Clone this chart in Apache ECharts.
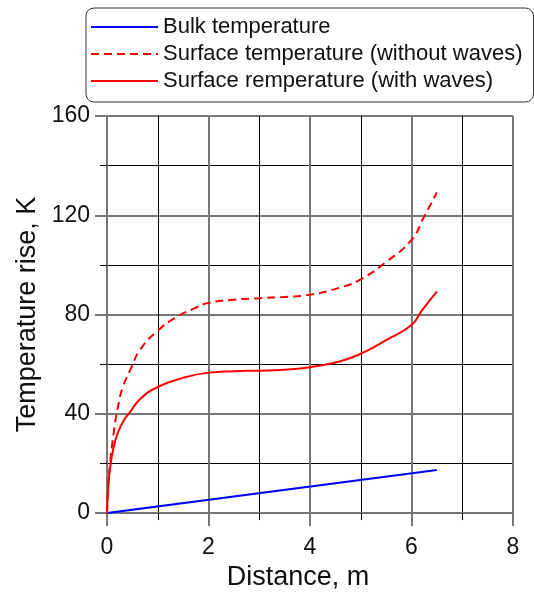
<!DOCTYPE html>
<html>
<head>
<meta charset="utf-8">
<script src="https://cdn.jsdelivr.net/npm/echarts@6/dist/echarts.min.js"></script>
<style>
html,body{margin:0;padding:0;background:#fff;}
#chart{width:534px;height:596px;}
</style>
</head>
<body>
<div id="chart"></div>
<script>
// Data
var seriesNames = ['Bulk temperature', 'Surface temperature (without waves)', 'Surface remperature (with waves)'];

var bulkX = [0, 6.5];
var bulkY = [0, 17.4];

var noWaveX = [0, 0.03, 0.06, 0.125, 0.22, 0.32, 0.49, 0.65, 1.0, 1.37, 1.7, 2.0, 2.5, 3.0, 3.5, 4.0, 4.6, 5.0, 5.5, 6.0, 6.25, 6.5];
var noWaveY = [0, 13, 20, 31.3, 43.3, 51.2, 59.1, 65.8, 73.5, 79, 82.3, 84.7, 86.0, 86.6, 87.1, 88, 90.9, 94.2, 101.2, 110.1, 119.5, 129.2];

var waveX = [0, 0.02, 0.06, 0.125, 0.22, 0.35, 0.45, 0.65, 1.0, 1.5, 2.0, 2.5, 3.0, 3.5, 4.0, 4.6, 5.0, 5.5, 6.0, 6.2, 6.5];
var waveY = [0, 9, 18, 26, 32.7, 38, 40.6, 45.9, 50.8, 54.5, 56.6, 57.2, 57.4, 57.8, 58.8, 61.2, 64.2, 69.7, 75.8, 81.5, 89.2];

function zip(xs, ys) { return xs.map(function (x, i) { return [x, ys[i]]; }); }

var FONT = '"Liberation Sans", Arial, sans-serif';
var GRAY = '#777777';

var chart = echarts.init(document.getElementById('chart'), null, {renderer: 'canvas'});
chart.setOption({
  animation: false,
  backgroundColor: '#ffffff',
  textStyle: {fontFamily: FONT},
  grid: {left: 107, right: 21, top: 116, bottom: 77, containLabel: false},
  legend: {
    orient: 'vertical',
    left: 86, top: 8,
    padding: [8, 11, 10, 4],
    itemGap: 5,
    itemWidth: 67, itemHeight: 14,
    borderColor: '#333333', borderWidth: 1, borderRadius: 8,
    backgroundColor: '#ffffff',
    itemStyle: {opacity: 0},
    textStyle: {fontSize: 22, lineHeight: 22, color: '#111111', fontFamily: FONT},
    data: seriesNames
  },
  xAxis: {
    type: 'value', min: 0, max: 8, interval: 2, position: 'bottom',
    name: 'Distance, m', nameLocation: 'middle', nameGap: 48,
    nameTextStyle: {fontSize: 27, color: '#111111', fontFamily: FONT, padding: [0, 24, 0, 0]},
    axisLine: {show: true, onZero: false, lineStyle: {color: GRAY, width: 2}},
    axisTick: {show: true, length: 13, lineStyle: {color: GRAY, width: 2}},
    minorTick: {show: true, splitNumber: 2, length: 7, lineStyle: {color: '#000000', width: 1}},
    axisLabel: {fontSize: 23, color: '#111111', margin: 23, fontFamily: FONT},
    splitLine: {show: true, lineStyle: {color: GRAY, width: 2}},
    minorSplitLine: {show: true, lineStyle: {color: '#000000', width: 1}}
  },
  yAxis: {
    type: 'value', min: 0, max: 160, interval: 40, position: 'left',
    name: 'Temperature rise, K', nameLocation: 'middle', nameGap: 64, nameRotate: 90,
    nameTextStyle: {fontSize: 27, color: '#111111', fontFamily: FONT},
    axisLine: {show: true, onZero: false, lineStyle: {color: GRAY, width: 2}},
    axisTick: {show: true, length: 12, lineStyle: {color: GRAY, width: 2}},
    minorTick: {show: true, splitNumber: 2, length: 7, lineStyle: {color: '#000000', width: 1}},
    axisLabel: {fontSize: 23, color: '#111111', margin: 17, fontFamily: FONT},
    splitLine: {show: true, lineStyle: {color: GRAY, width: 2}},
    minorSplitLine: {show: true, lineStyle: {color: '#000000', width: 1}}
  },
  series: [
    {
      name: seriesNames[0], type: 'line', z: 5,
      data: zip(bulkX, bulkY), symbol: 'none', smooth: false,
      lineStyle: {color: '#0000ff', width: 2}, itemStyle: {color: '#0000ff'}
    },
    {
      name: seriesNames[1], type: 'line', z: 5,
      data: zip(noWaveX, noWaveY), symbol: 'none', smooth: 0.5,
      lineStyle: {color: '#ff0000', width: 2, type: [8, 5]}, itemStyle: {color: '#ff0000'}
    },
    {
      name: seriesNames[2], type: 'line', z: 5,
      data: zip(waveX, waveY), symbol: 'none', smooth: 0.5,
      lineStyle: {color: '#ff0000', width: 2}, itemStyle: {color: '#ff0000'}
    }
  ]
});
</script>
</body>
</html>
